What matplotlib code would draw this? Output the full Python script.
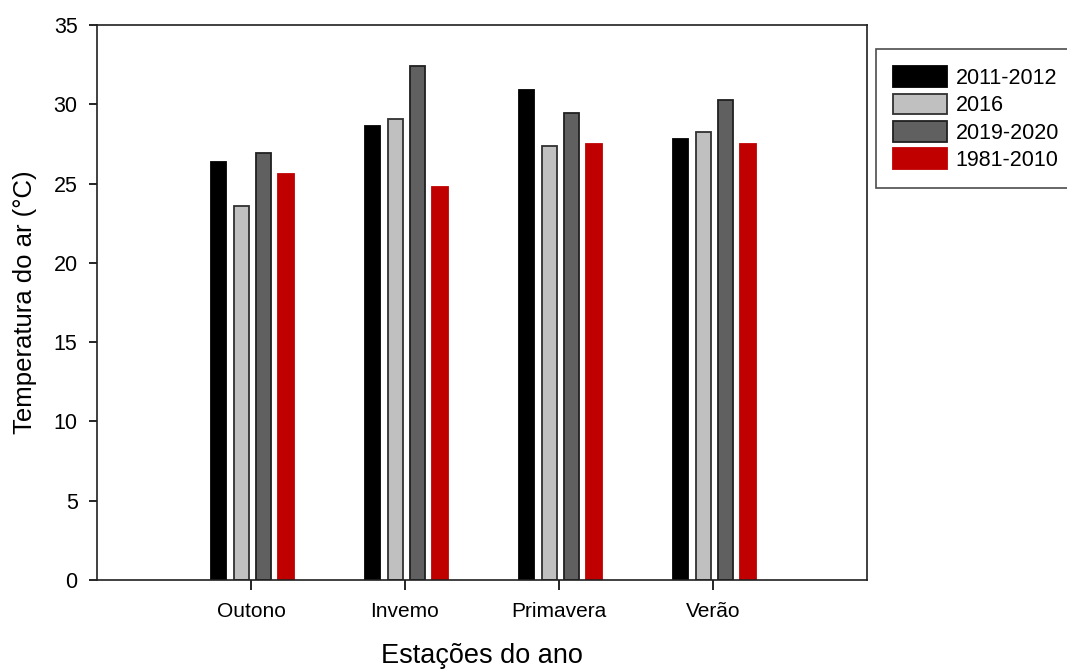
import matplotlib
matplotlib.use("Agg")
import matplotlib.pyplot as plt
import numpy as np

plt.rcParams['font.family'] = ['Liberation Sans', 'DejaVu Sans']

seasons = ["Outono", "Invemo", "Primavera", "Verão"]
series_names = ["2011-2012", "2016", "2019-2020", "1981-2010"]
t_2011_2012 = [26.35, 28.65, 30.9, 27.8]
t_2016 = [23.6, 29.05, 27.4, 28.25]
t_2019_2020 = [26.9, 32.4, 29.45, 30.3]
t_1981_2010 = [25.6, 24.8, 27.5, 27.5]

values = [t_2011_2012, t_2016, t_2019_2020, t_1981_2010]
fills = ["#000000", "#c0c0c0", "#606060", "#c00000"]
edges = ["#000000", "#303030", "#202020", "#c00000"]

fig = plt.figure(figsize=(10.67, 6.69), dpi=100)
ax = fig.add_axes([97 / 1067, 1 - 580 / 669, (867 - 97) / 1067, (580 - 25) / 669])

x = np.arange(1, len(seasons) + 1)
width = 0.1
offsets = [-0.21, -0.063, 0.083, 0.228]
for vals, name, fc, ec, off in zip(values, series_names, fills, edges, offsets):
    ax.bar(x + off, vals, width=width, color=fc, edgecolor=ec, linewidth=1.3, label=name)

ax.set_xlim(0, 5)
ax.set_ylim(0, 35)
ax.set_xticks(x)
ax.set_xticklabels(seasons, fontsize=15)
ax.set_yticks(np.arange(0, 36, 5))
ax.tick_params(axis='y', labelsize=15.5, direction='out', length=6, width=1.2, pad=8)
ax.tick_params(axis='x', direction='out', length=7, width=1.2, pad=9)
for s in ax.spines.values():
    s.set_linewidth(1.2)
    s.set_color("#202020")

ax.set_xlabel("Estações do ano", fontsize=19.5, labelpad=16)
ax.set_ylabel("Temperatura do ar (°C)", fontsize=18.5, labelpad=12)

leg = fig.legend(loc="upper left", bbox_to_anchor=(876 / 1067, 1 - 49 / 669),
                 fontsize=15.5, frameon=True, fancybox=False, edgecolor="#202020",
                 handlelength=2.5, handleheight=1.1, handletextpad=0.4,
                 labelspacing=0.22, borderpad=0.8, borderaxespad=0)
leg.get_frame().set_linewidth(1.2)

fig.savefig("out.png", dpi=100)
